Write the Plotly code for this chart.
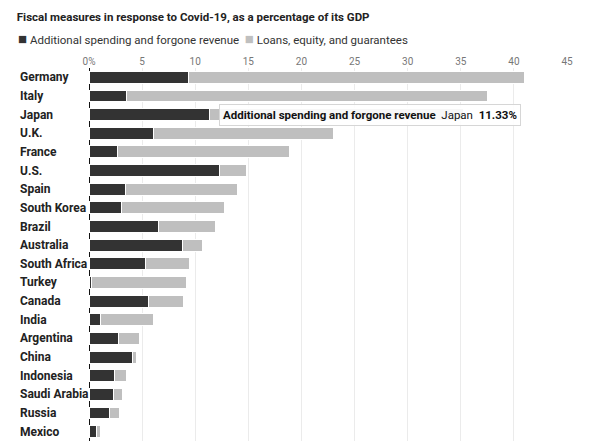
import plotly.graph_objects as go

countries = ["Germany", "Italy", "Japan", "U.K.", "France", "U.S.", "Spain", "South Korea",
             "Brazil", "Australia", "South Africa", "Turkey", "Canada", "India", "Argentina",
             "China", "Indonesia", "Saudi Arabia", "Russia", "Mexico"]
spending = [9.4, 3.5, 11.33, 6.1, 2.65, 12.3, 3.4, 3.1, 6.5, 8.8, 5.3, 0.2, 5.6, 1.1, 2.8,
            4.1, 2.4, 2.3, 1.9, 0.7]
totals = [41.0, 37.5, 35.3, 23.0, 18.9, 14.8, 14.0, 12.8, 11.9, 10.7, 9.5, 9.2, 8.9, 6.1, 4.8,
          4.5, 3.5, 3.2, 2.9, 1.1]
loans = [round(t - s, 2) for t, s in zip(totals, spending)]

tick_vals = [0, 5, 10, 15, 20, 25, 30, 35, 40, 45]
tick_text = ["0%", "5", "10", "15", "20", "25", "30", "35", "40", "45"]

series_names = ["Additional spending and forgone revenue", "Loans, equity, and guarantees"]
dark = "#333333"
light = "#bfbfbf"
FONT = "Roboto"

fig = go.Figure()
fig.add_trace(go.Bar(y=countries, x=spending, orientation="h", name=series_names[0],
                     marker=dict(color=dark, line=dict(color="white", width=1)),
                     hovertemplate="<b>%{fullData.name}</b> %{y} <b>%{x}%</b><extra></extra>"))
fig.add_trace(go.Bar(y=countries, x=loans, orientation="h", name=series_names[1],
                     marker=dict(color=light, line=dict(color="white", width=1)),
                     hovertemplate="<b>%{fullData.name}</b> %{y} <b>%{x}%</b><extra></extra>"))

annotations = []
for c in countries:
    annotations.append(dict(xref="paper", yref="y", x=-0.148, y=c, xanchor="left",
                            text="<b>" + c + "</b>", showarrow=False,
                            font=dict(family=FONT, size=12, color="#222")))

# legend drawn as text
annotations.append(dict(xref="paper", yref="paper", x=-0.152, y=1.078, xanchor="left", yanchor="middle",
                        showarrow=False,
                        text=f'<span style="color:{dark};font-size:15px">■</span> {series_names[0]}  '
                             f'<span style="color:{light};font-size:15px">■</span> {series_names[1]}',
                        font=dict(family=FONT, size=11.5, color="#333")))

# hover-like tooltip
annotations.append(dict(xref="x", yref="y", x=12.2, y="Japan", xanchor="left", yanchor="middle",
                        showarrow=False,
                        text=f"<b>{series_names[0]}</b>  Japan  <b>{spending[2]}%</b>",
                        bgcolor="rgba(255,255,255,0.88)", bordercolor="#d6d6d6", borderwidth=1,
                        borderpad=3, font=dict(family=FONT, size=11.5, color="#111")))

fig.update_layout(
    width=600, height=445,
    margin=dict(l=89, r=33, t=68, b=4),
    barmode="stack", bargap=0.36,
    paper_bgcolor="white", plot_bgcolor="white",
    showlegend=False,
    title=dict(text="<b>Fiscal measures in response to Covid-19, as a percentage of its GDP</b>",
               x=0.028, xanchor="left", y=0.962, yanchor="middle",
               font=dict(family=FONT, size=11.5, color="#222")),
    xaxis=dict(side="top", range=[0, 45], tickvals=tick_vals, ticktext=tick_text,
               showgrid=True, gridcolor="#ebebeb", gridwidth=1,
               zeroline=True, zerolinecolor="#111", zerolinewidth=1,
               tickfont=dict(family=FONT, size=10, color="#777"), fixedrange=True),
    yaxis=dict(categoryorder="array", categoryarray=countries, autorange="reversed",
               showticklabels=False, showgrid=False, fixedrange=True),
    annotations=annotations,
    font=dict(family=FONT),
)

fig.write_html("out.html")
